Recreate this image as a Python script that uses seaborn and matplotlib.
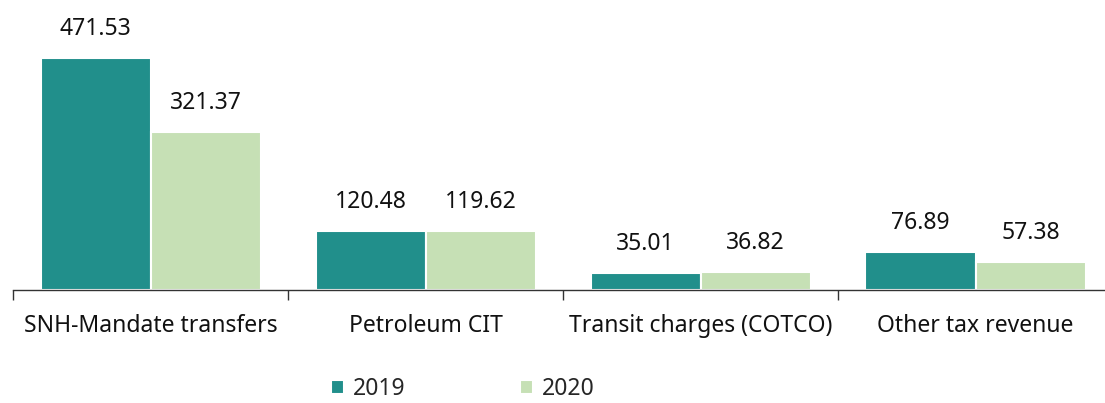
import numpy as np
import pandas as pd
import matplotlib.pyplot as plt
import seaborn as sns

# 数据
categories = ['SNH-Mandate transfers', 'Petroleum CIT', 'Transit charges (COTCO)', 'Other tax revenue']
years = ['2019', '2020']
values_2019 = [471.53, 120.48, 35.01, 76.89]
values_2020 = [321.37, 119.62, 36.82, 57.38]
colors = ['#218F8B', '#C6E0B5']

df = pd.DataFrame({
    'category': categories * 2,
    'year': [years[0]] * len(categories) + [years[1]] * len(categories),
    'value': values_2019 + values_2020,
})

sns.set_theme(style='white')
plt.rcParams['font.family'] = ['Noto Sans', 'DejaVu Sans']

fig = plt.figure(figsize=(11.05, 4.03), dpi=100)
# 坐标轴右端超出画面（参考图中最后一个分隔刻度被裁掉）
ax = fig.add_axes([13 / 1105, 113 / 403, 1100 / 1105, 290 / 403])

sns.barplot(data=df, x='category', y='value', hue='year', palette=colors, saturation=1,
            width=0.8, edgecolor='white', linewidth=1.5, ax=ax, legend=True)

for cont in ax.containers:
    ax.bar_label(cont, fmt='%.2f', padding=12, fontsize=16.5, color='#111111')

ax.set_ylim(0, 589)
ax.set_xlim(-0.5, len(categories) - 0.5)
ax.set_xlabel('')
ax.set_ylabel('')
ax.set_yticks([])
for s in ['top', 'right', 'left']:
    ax.spines[s].set_visible(False)
ax.spines['bottom'].set_color('#333333')
ax.spines['bottom'].set_linewidth(1)

# 类别标签放在主刻度上，分隔刻度用次刻度
ax.tick_params(axis='x', which='major', length=0, pad=17, labelsize=16.5, labelcolor='#111111')
ax.set_xticks(np.arange(-0.5, len(categories), 1.0), minor=True)
ax.tick_params(axis='x', which='minor', length=7, width=1, color='#333333', direction='out', bottom=True)

handles, labels = ax.get_legend_handles_labels()
ax.legend(handles, labels, loc='center', bbox_to_anchor=(0.419, 0.035), bbox_transform=fig.transFigure,
          ncol=2, frameon=False, fontsize=16.5, handlelength=0.55, handleheight=0.55,
          handletextpad=0.4, columnspacing=5.0, borderpad=0.2)

fig.savefig('out.png', dpi=100)
